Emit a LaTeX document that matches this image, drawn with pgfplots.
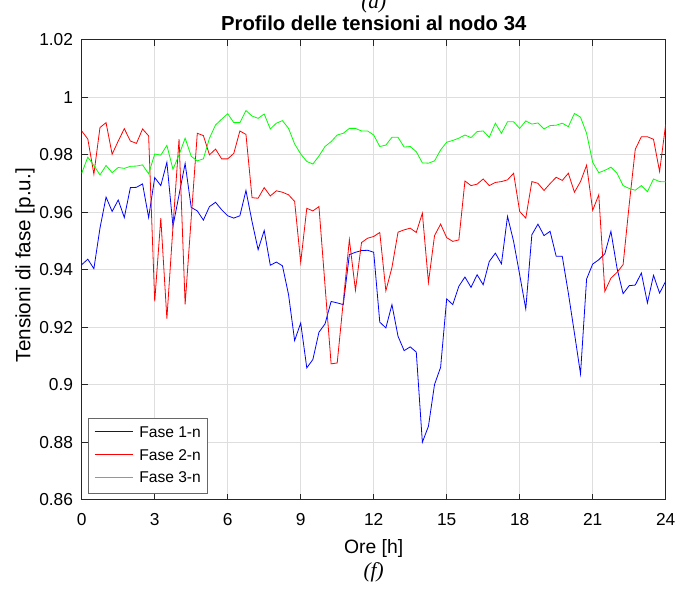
\documentclass[border=0pt]{standalone}
\usepackage{fontspec}
\setmainfont{Liberation Sans}
\newfontfamily\timesf{Liberation Serif}
\usepackage{pgfplots}
\pgfplotsset{compat=1.18}
\usepackage{pgfplotstable}
\definecolor{axgray}{rgb}{0.15,0.15,0.15}
\definecolor{gridgray}{rgb}{0.87,0.87,0.87}
\newcommand\legfont{\fontsize{11.7}{14}\selectfont}
\newcommand\legline[1]{\textcolor{#1}{\rule[0.33em]{29pt}{0.8pt}}}
\pgfplotstableread{
t b r g
0 0.9418 0.9883 0.9736
0.25 0.9437 0.9855 0.9792
0.5 0.9404 0.9733 0.9763
0.75 0.9545 0.9895 0.9730
1 0.9653 0.9912 0.9763
1.25 0.9603 0.9802 0.9738
1.5 0.9643 0.9848 0.9756
1.75 0.9582 0.9891 0.9753
2 0.9686 0.9848 0.9760
2.25 0.9687 0.9840 0.9761
2.5 0.9699 0.9890 0.9765
2.75 0.9582 0.9866 0.9734
3 0.9721 0.9290 0.9803
3.25 0.9693 0.9580 0.9799
3.5 0.9774 0.9230 0.9833
3.75 0.9552 0.9550 0.9750
4 0.9661 0.9855 0.9800
4.25 0.9770 0.9280 0.9858
4.5 0.9617 0.9580 0.9795
4.75 0.9605 0.9875 0.9779
5 0.9573 0.9867 0.9786
5.25 0.9620 0.9800 0.9858
5.5 0.9635 0.9820 0.9904
5.75 0.9609 0.9786 0.9924
6 0.9588 0.9786 0.9943
6.25 0.9580 0.9805 0.9912
6.5 0.9588 0.9883 0.9912
6.75 0.9676 0.9871 0.9954
7 0.9568 0.9651 0.9935
7.25 0.9470 0.9649 0.9927
7.5 0.9537 0.9686 0.9942
7.75 0.9416 0.9657 0.9890
8 0.9427 0.9675 0.9910
8.25 0.9414 0.9670 0.9919
8.5 0.9314 0.9661 0.9892
8.75 0.9154 0.9638 0.9838
9 0.9215 0.9426 0.9803
9.25 0.9059 0.9614 0.9777
9.5 0.9088 0.9605 0.9768
9.75 0.9183 0.9620 0.9796
10 0.9212 0.9345 0.9829
10.25 0.9290 0.9073 0.9846
10.5 0.9285 0.9076 0.9869
10.75 0.9279 0.9290 0.9875
11 0.9453 0.9505 0.9892
11.25 0.9461 0.9329 0.9892
11.5 0.9467 0.9495 0.9883
11.75 0.9468 0.9510 0.9883
12 0.9461 0.9516 0.9869
12.25 0.9218 0.9530 0.9829
12.5 0.9198 0.9327 0.9834
12.75 0.9279 0.9408 0.9861
13 0.9169 0.9531 0.9861
13.25 0.9119 0.9539 0.9827
13.5 0.9132 0.9545 0.9829
13.75 0.9114 0.9530 0.9811
14 0.8800 0.9597 0.9772
14.25 0.8856 0.9356 0.9771
14.5 0.9001 0.9519 0.9779
14.75 0.9061 0.9559 0.9817
15 0.9299 0.9512 0.9844
15.25 0.9279 0.9499 0.9850
15.5 0.9343 0.9504 0.9858
15.75 0.9375 0.9709 0.9869
16 0.9339 0.9693 0.9860
16.25 0.9383 0.9698 0.9881
16.5 0.9348 0.9716 0.9883
16.75 0.9429 0.9693 0.9861
17 0.9458 0.9704 0.9910
17.25 0.9421 0.9707 0.9875
17.5 0.9586 0.9713 0.9915
17.75 0.9499 0.9736 0.9915
18 0.9383 0.9603 0.9892
18.25 0.9264 0.9580 0.9918
18.5 0.9522 0.9707 0.9907
18.75 0.9559 0.9701 0.9911
19 0.9519 0.9676 0.9890
19.25 0.9534 0.9700 0.9902
19.5 0.9447 0.9722 0.9903
19.75 0.9447 0.9711 0.9910
20 0.9319 0.9736 0.9898
20.25 0.9180 0.9670 0.9944
20.5 0.9038 0.9707 0.9931
20.75 0.9368 0.9764 0.9875
21 0.9420 0.9607 0.9774
21.25 0.9435 0.9661 0.9738
21.5 0.9456 0.9325 0.9746
21.75 0.9534 0.9371 0.9757
22 0.9406 0.9391 0.9736
22.25 0.9317 0.9418 0.9693
22.5 0.9345 0.9626 0.9683
22.75 0.9347 0.9819 0.9677
23 0.9389 0.9863 0.9693
23.25 0.9285 0.9863 0.9672
23.5 0.9381 0.9854 0.9716
23.75 0.9319 0.9742 0.9707
24 0.9360 0.9906 0.9706
}\datatable
\begin{document}
\begin{tikzpicture}
\useasboundingbox (-61.3pt,-66.2pt) rectangle (455.5pt,374.9pt);
\begin{axis}[
  at={(0,0)}, anchor=south west,
  scale only axis, width=438pt, height=345pt,
  xmin=0, xmax=24, ymin=0.86, ymax=1.02,
  xtick={0,3,6,9,12,15,18,21,24},
  ytick={0.86,0.88,0.90,0.92,0.94,0.96,0.98,1.00,1.02},
  yticklabel style={/pgf/number format/fixed, /pgf/number format/precision=2, font=\fontsize{13}{15}\selectfont, xshift=-3pt},
  xticklabel style={font=\fontsize{13}{15}\selectfont, yshift=-7pt},
  /pgf/number format/assume math mode=true,
  grid=major,
  grid style={color=gridgray, line width=0.6pt},
  tick align=inside, tick pos=both,
  major tick length=4.5pt,
  axis line style={color=axgray, line width=0.6pt},
  tick style={color=axgray, line width=0.6pt},
  xlabel={Ore [h]},
  ylabel={Tensioni di fase [p.u.]},
  xlabel style={font=\fontsize{14.5}{17}\selectfont, at={(axis description cs:0.5,-0.106)}, anchor=center},
  ylabel style={font=\fontsize{15.5}{18}\selectfont, at={(axis description cs:-0.097,0.51)}, anchor=center},
  title={Profilo delle tensioni al nodo 34},
  title style={font=\fontsize{15.2}{18}\selectfont\bfseries, at={(axis description cs:0.5,1.0365)}, anchor=center, yshift=-6pt},
]
\addplot[color=blue, line width=0.6pt] table[x=t, y=b] {\datatable};
\addplot[color=red, line width=0.6pt] table[x=t, y=r] {\datatable};
\addplot[color=green, line width=0.6pt] table[x=t, y=g] {\datatable};
\node[anchor=south west, draw=axgray!70, line width=0.5pt, fill=white, inner xsep=4.5pt, inner ysep=2.5pt, font=\legfont]
  at (axis description cs:0.0113,0.0141)
  {\renewcommand\arraystretch{1.22}\begin{tabular}{@{}l@{\hspace{4.5pt}}l@{}}
   \legline{blue} & Fase 1-n\\
   \legline{red} & Fase 2-n\\
   \legline{green} & Fase 3-n
   \end{tabular}};
\end{axis}
\node[font=\timesf\itshape\fontsize{16}{19}\selectfont] at (219pt,-54.2pt) {(f)};
\node[font=\timesf\itshape\fontsize{16}{19}\selectfont] at (219pt,372.6pt) {(a)};
\end{tikzpicture}
\end{document}
